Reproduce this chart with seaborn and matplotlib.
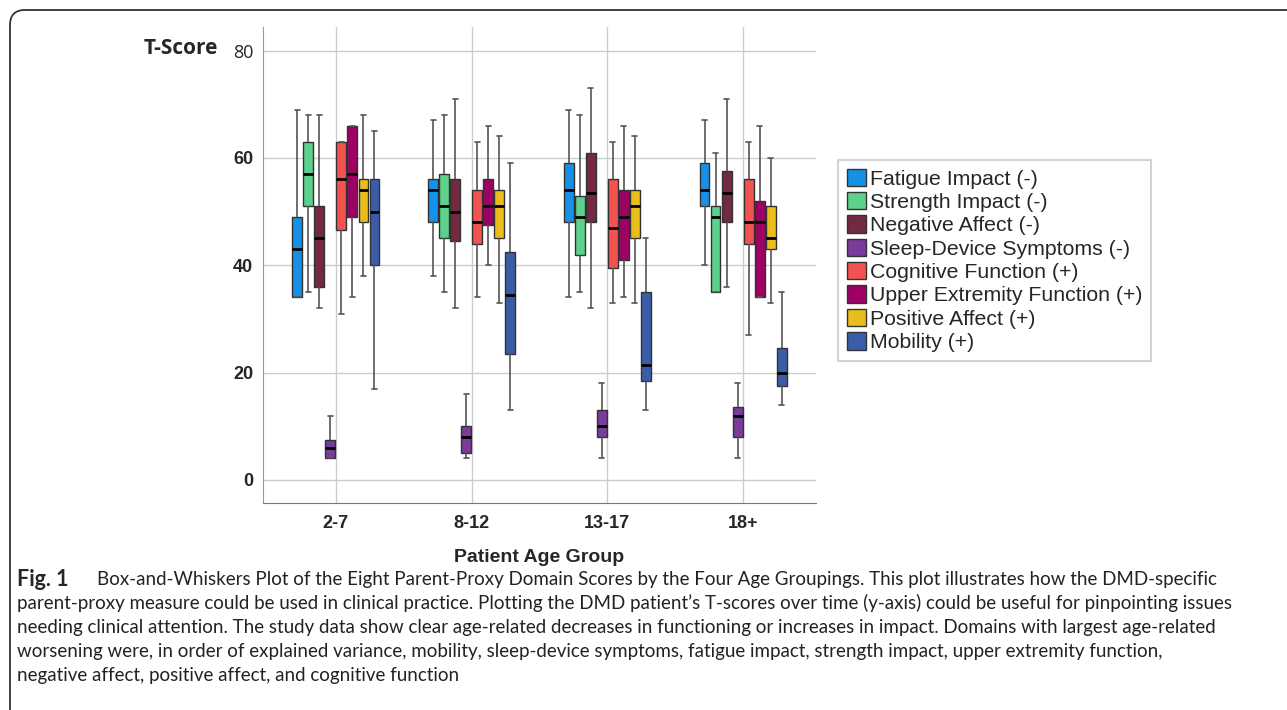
import numpy as np
import pandas as pd
import matplotlib.pyplot as plt
import seaborn as sns
from matplotlib.patches import Patch, FancyBboxPatch


age_groups = ['2-7', '8-12', '13-17', '18+']
domains = ['Fatigue Impact (-)', 'Strength Impact (-)', 'Negative Affect (-)',
           'Sleep-Device Symptoms (-)', 'Cognitive Function (+)',
           'Upper Extremity Function (+)', 'Positive Affect (+)', 'Mobility (+)']
colors = ['#1591e6', '#5dd08c', '#722a40', '#7a3b9a',
          '#f25351', '#9e0064', '#e8bd1c', '#3a5daa']

whisker_low = [[34, 38, 34, 40],
               [35, 35, 35, 35],
               [32, 32, 32, 36],
               [4, 4, 4, 4],
               [31, 34, 33, 27],
               [34, 40, 34, 34],
               [38, 33, 33, 33],
               [17, 13, 13, 14]]
q1 = [[34, 48, 48, 51],
      [51, 45, 42, 35],
      [36, 44.5, 48, 48],
      [4, 5, 8, 8],
      [46.5, 44, 39.5, 44],
      [49, 47.5, 41, 34],
      [48, 45, 45, 43],
      [40, 23.5, 18.5, 17.5]]
median = [[43, 54, 54, 54],
          [57, 51, 49, 49],
          [45, 50, 53.5, 53.5],
          [6, 8, 10, 12],
          [56, 48, 47, 48],
          [57, 51, 49, 48],
          [54, 51, 51, 45],
          [50, 34.5, 21.5, 20]]
q3 = [[49, 56, 59, 59],
      [63, 57, 53, 51],
      [51, 56, 61, 57.5],
      [7.5, 10, 13, 13.5],
      [63, 54, 56, 56],
      [66, 56, 54, 52],
      [56, 54, 54, 51],
      [56, 42.5, 35, 24.5]]
whisker_high = [[69, 67, 69, 67],
                [68, 68, 68, 61],
                [68, 71, 73, 71],
                [12, 16, 18, 18],
                [63, 63, 63, 63],
                [66, 66, 66, 66],
                [68, 64, 64, 60],
                [65, 59, 45, 35]]

caption_lines = [
    "Box-and-Whiskers Plot of the Eight Parent-Proxy Domain Scores by the Four Age Groupings. This plot illustrates how the DMD-specific",
    "parent-proxy measure could be used in clinical practice. Plotting the DMD patient\u2019s T-scores over time (y-axis) could be useful for pinpointing issues",
    "needing clinical attention. The study data show clear age-related decreases in functioning or increases in impact. Domains with largest age-related",
    "worsening were, in order of explained variance, mobility, sleep-device symptoms, fatigue impact, strength impact, upper extremity function,",
    "negative affect, positive affect, and cognitive function",
]


# five points per box : their quartiles give back the summary, whis=(0, 100) gives the whiskers
rows = []
for i, domain in enumerate(domains):
    for j, group in enumerate(age_groups):
        for stat in (whisker_low, q1, median, q3, whisker_high):
            rows.append({'age_group': group, 'domain': domain, 'score': stat[i][j]})
df = pd.DataFrame(rows)

sns.set_style('white')
plt.rcParams['font.family'] = ['Liberation Sans', 'DejaVu Sans']

fig = plt.figure(figsize=(12.87, 7.10), dpi=100)
ax = fig.add_axes([263 / 1287, 1 - 503 / 710, (816 - 263) / 1287, (503 - 27) / 710])

sns.boxplot(
    data=df, x='age_group', y='score', hue='domain',
    order=age_groups, hue_order=domains,
    palette=dict(zip(domains, colors)),
    width=0.65, gap=0.1, whis=(0, 100), saturation=1,
    linecolor='#333333', linewidth=1, showfliers=False,
    medianprops=dict(color='black', linewidth=2),
    whiskerprops=dict(color='#555555', linewidth=1.2),
    capprops=dict(color='#555555', linewidth=1.2),
    legend=False, ax=ax,
)

ax.set_ylim(-4.3, 84.4)
ax.set_xlim(-0.537, 3.537)
ax.set_yticks([0, 20, 40, 60, 80])
ax.grid(True, color='#cccccc', linewidth=1)
ax.set_axisbelow(True)
for side in ['top', 'right']:
    ax.spines[side].set_visible(False)
ax.spines['left'].set_color('#999999')
ax.spines['bottom'].set_color('#777777')
ax.tick_params(length=0, labelsize=13)
ax.tick_params(axis='y', pad=7)
ax.tick_params(axis='x', pad=9)
for lab in ax.get_xticklabels() + ax.get_yticklabels():
    lab.set_fontweight('bold')
top_label = ax.get_yticklabels()[-1]
top_label.set_fontweight('normal')
top_label.set_fontfamily(['Open Sans', 'DejaVu Sans'])
ax.set_xlabel('Patient Age Group', fontsize=14, fontweight='bold', labelpad=12)
ax.set_ylabel('')
fig.text(218 / 1287, 1 - 49 / 710, 'T-Score', fontsize=15, fontweight='bold',
         family=['Open Sans', 'DejaVu Sans'], ha='right', va='center')

# legend
handles = [Patch(facecolor=c, edgecolor='#333333', linewidth=1) for c in colors]
leg = fig.legend(handles, domains, loc='upper left',
                 bbox_to_anchor=(838 / 1287, 1 - 160 / 710),
                 frameon=True, fancybox=False, edgecolor='#c8c8c8',
                 fontsize=15.3, handlelength=0.9, handleheight=0.9,
                 handletextpad=0.2, labelspacing=0.15, borderpad=0.4, borderaxespad=0)
leg.get_frame().set_linewidth(1.5)

# caption
cap_font = ['Lato', 'DejaVu Sans']
fig.text(17 / 1287, 1 - 579 / 710, 'Fig. 1', fontsize=15.5, fontweight='bold',
         family=cap_font, va='center')
for k, line in enumerate(caption_lines):
    x0 = 97 if k == 0 else 17
    fig.text(x0 / 1287, 1 - (579 + 24 * k) / 710, line, fontsize=13.5,
             family=cap_font, va='center', color='#222222')

# rounded frame around the figure
frame = FancyBboxPatch((0.10, -0.5), 13.0, 7.5, boxstyle='round,pad=0,rounding_size=0.15',
                       transform=fig.dpi_scale_trans, facecolor='none',
                       edgecolor='#333333', linewidth=1.3, clip_on=False)
fig.add_artist(frame)

plt.savefig('out.png', dpi=100)
